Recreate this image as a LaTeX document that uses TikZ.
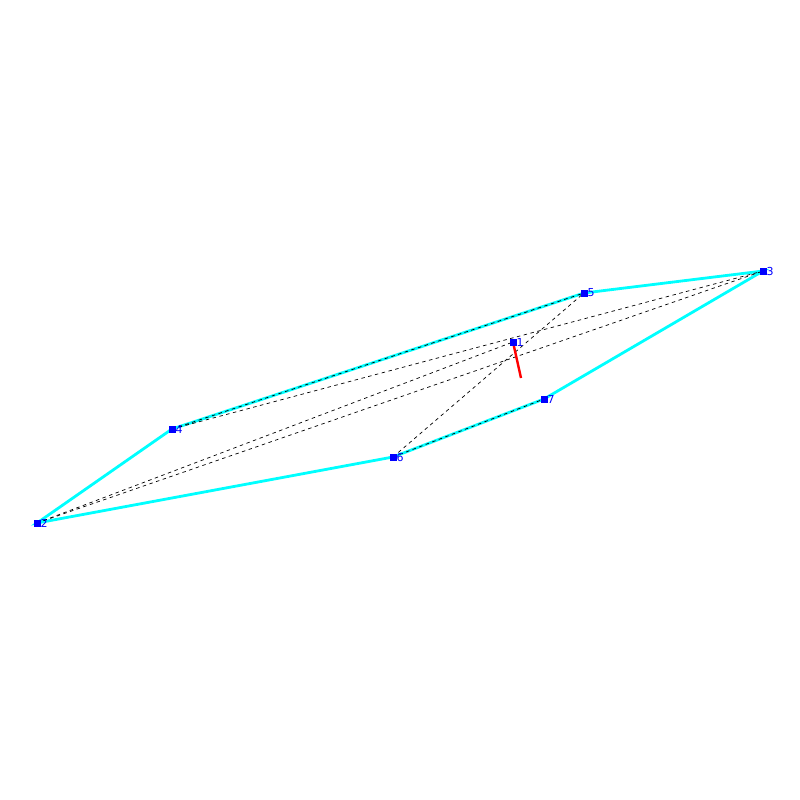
\documentclass[tikz,border=0pt]{standalone}
\usepackage{fontspec}
\setmainfont{DejaVu Sans}
\definecolor{hullc}{RGB}{0,255,255}
\definecolor{ptc}{RGB}{0,0,255}
\definecolor{redc}{RGB}{255,0,0}
\begin{document}
\begin{tikzpicture}[x=1pt,y=-1pt,
  pt/.style={fill=ptc,minimum size=7pt,inner sep=0pt,outer sep=0pt},
  lab/.style={text=ptc,font=\fontsize{11}{11}\selectfont,anchor=west,inner sep=0pt},
  hull/.style={hullc,line width=2.8pt},
  dsh/.style={black,line width=0.7pt,dash pattern=on 3.5pt off 3.5pt}]
\useasboundingbox (0,0) rectangle (800,800);
\node[pt] (n1) at (513,342) {};
\node[pt] (n2) at (37,523) {};
\node[pt] (n3) at (763,271) {};
\node[pt] (n4) at (172,429) {};
\node[pt] (n5) at (584,293) {};
\node[pt] (n6) at (393,457) {};
\node[pt] (n7) at (544,399) {};
\coordinate (r) at (521,378);
\draw[hull] (n2.center) -- (n4.center) -- (n5.center) -- (n3.center) -- (n7.center) -- (n6.center) -- cycle;
\draw[dsh] (n2.center) -- (n1.center);
\draw[dsh] (n2.center) -- (n3.center);
\draw[dsh] (n4.center) -- (n3.center);
\draw[dsh] (n4.center) -- (n5.center);
\draw[dsh] (n6.center) -- (n5.center);
\draw[dsh] (n6.center) -- (n7.center);
\draw[redc,line width=2.4pt] (n1.center) -- (r);
\foreach \i in {1,...,7} {
  \node[pt] at (n\i) {};
  \node[lab] at ([xshift=3.5pt]n\i.center) {\i};
}
\end{tikzpicture}
\end{document}
